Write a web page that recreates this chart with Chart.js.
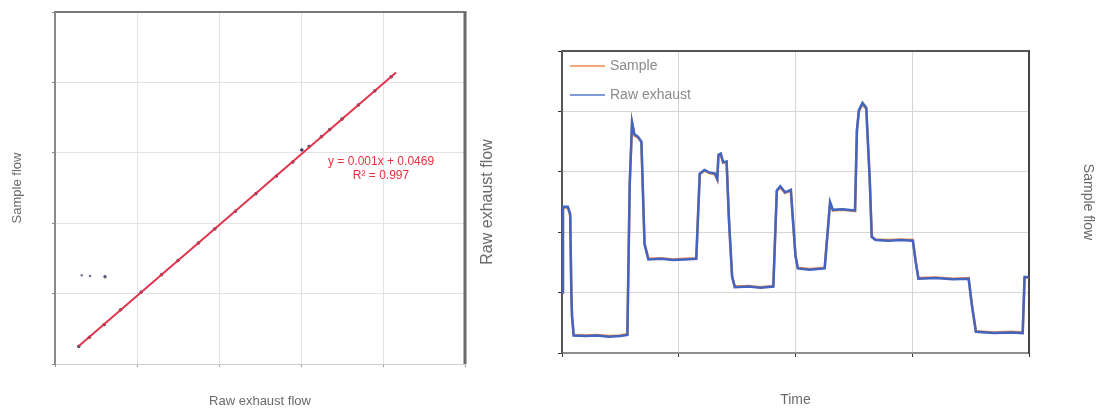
<!DOCTYPE html>
<html>
<head>
<meta charset="utf-8">
<title>Sample flow vs raw exhaust flow</title>
<script src="https://cdn.jsdelivr.net/npm/chart.js@4"></script>
<style>
  html, body { margin: 0; padding: 0; background: #fff; }
  body { width: 1098px; height: 412px; position: relative; overflow: hidden; }
  .box { position: absolute; top: 0; height: 412px; }
  #leftBox { left: 0; width: 480px; }
  #rightBox { left: 480px; width: 618px; }
</style>
</head>
<body>
<div class="box" id="leftBox"><canvas id="scatterChart"></canvas></div>
<div class="box" id="rightBox"><canvas id="timeChart"></canvas></div>
<script>
// left: sample flow against raw exhaust flow
const rawFlowX = [290, 420, 600, 800, 1050, 1300, 1500, 1750, 1950, 2200, 2450, 2700, 2900, 3010, 3100, 3250, 3350, 3500, 3700, 3900, 4100];
const sampleFlowY = [0.25, 0.38, 0.56, 0.77, 1.02, 1.27, 1.47, 1.72, 1.92, 2.17, 2.42, 2.67, 2.87, 3.04, 3.09, 3.23, 3.33, 3.48, 3.68, 3.88, 4.08];
const strayX = [326, 427, 610];
const strayY = [1.26, 1.25, 1.24];
const trendX = [284, 4159];
const trendY = [0.25, 4.14];
const trendText = ["y = 0.001x + 0.0469", "R\u00b2 = 0.997"];

// right: flows over time
const timeSteps = [0, 0.8, 5, 7, 8, 8.6, 10, 20, 30, 40, 50, 56, 58, 60, 62, 65, 68, 70.7, 74, 85, 95, 105, 115,
  118, 122, 126, 131, 133, 134, 136, 138, 141, 143, 145.7, 148, 160, 170, 181, 184, 187, 191, 196, 200, 202, 212,
  225, 229.6, 232, 240, 251, 252.6, 254.3, 257.4, 260.6, 263.6, 265.3, 268.6, 280, 290, 300.5, 303, 305.3, 320,
  335, 348.3, 351, 354.5, 370, 385, 394.6, 396.2, 399.5];
const rawExhaust = [1.00, 2.42, 2.42, 2.30, 1.00, 0.60, 0.29, 0.28, 0.29, 0.27, 0.28, 0.30, 2.80, 3.82, 3.62, 3.58,
  3.50, 1.80, 1.55, 1.56, 1.54, 1.55, 1.56, 2.97, 3.03, 2.99, 2.97, 2.88, 3.28, 3.30, 3.16, 3.17, 2.20, 1.26, 1.09,
  1.10, 1.08, 1.10, 2.69, 2.76, 2.66, 2.70, 1.60, 1.40, 1.38, 1.40, 2.50, 2.37, 2.38, 2.36, 3.69, 4.02, 4.14, 4.06,
  2.86, 1.92, 1.87, 1.86, 1.87, 1.86, 1.50, 1.23, 1.24, 1.22, 1.23, 0.80, 0.35, 0.33, 0.34, 0.33, 1.26, 1.26];
const sampleSeries = [1.02, 2.40, 2.41, 2.28, 1.02, 0.62, 0.30, 0.29, 0.30, 0.28, 0.29, 0.31, 2.78, 3.80, 3.60, 3.57,
  3.49, 1.82, 1.56, 1.57, 1.55, 1.56, 1.57, 2.96, 3.02, 2.98, 2.96, 2.87, 3.26, 3.28, 3.15, 3.16, 2.22, 1.27, 1.10,
  1.11, 1.09, 1.11, 2.68, 2.74, 2.65, 2.69, 1.62, 1.41, 1.39, 1.41, 2.48, 2.36, 2.37, 2.35, 3.67, 4.00, 4.12, 4.04,
  2.88, 1.93, 1.88, 1.87, 1.88, 1.87, 1.52, 1.24, 1.25, 1.23, 1.24, 0.82, 0.36, 0.34, 0.35, 0.34, 1.24, 1.25];

const FONT = "'Liberation Sans', Arial, sans-serif";
Chart.defaults.font.family = FONT;
Chart.defaults.animation = false;

function toPoints(xs, ys) {
    return xs.map((x, i) => ({ x: x, y: ys[i] }));
}

// top and right edges of the plot frame (left and bottom come from the axes)
const framePlugin = {
    id: 'frame',
    afterDraw(chart, args, opts) {
        const ctx = chart.ctx;
        const a = chart.chartArea;
        ctx.save();
        ctx.strokeStyle = opts.topColor;
        ctx.lineWidth = opts.topWidth;
        ctx.beginPath();
        ctx.moveTo(a.left, a.top);
        ctx.lineTo(a.right + opts.rightWidth / 2, a.top);
        ctx.stroke();
        if (opts.rightWidth) {
            ctx.strokeStyle = opts.rightColor;
            ctx.lineWidth = opts.rightWidth;
            ctx.beginPath();
            ctx.moveTo(a.right, a.top);
            ctx.lineTo(a.right, a.bottom);
            ctx.stroke();
        }
        ctx.restore();
    }
};

// regression equation next to the trend line
const equationPlugin = {
    id: 'equation',
    afterDatasetsDraw(chart, args, opts) {
        const ctx = chart.ctx;
        const px = chart.scales.x.getPixelForValue(opts.x);
        const py = chart.scales.y.getPixelForValue(opts.y);
        ctx.save();
        ctx.fillStyle = opts.color;
        ctx.font = opts.size + 'px ' + FONT;
        ctx.textAlign = 'center';
        ctx.textBaseline = 'middle';
        opts.lines.forEach((t, i) => ctx.fillText(t, px, py + i * opts.gap));
        ctx.restore();
    }
};

// legend drawn inside the plot, top left
const insideLegend = {
    id: 'insideLegend',
    afterDraw(chart, args, opts) {
        const ctx = chart.ctx;
        const a = chart.chartArea;
        ctx.save();
        ctx.font = opts.size + 'px ' + FONT;
        ctx.textBaseline = 'middle';
        chart.data.datasets.forEach((ds, i) => {
            const y = a.top + opts.firstY + i * opts.gap;
            ctx.strokeStyle = ds.legendColor;
            ctx.lineWidth = 2;
            ctx.beginPath();
            ctx.moveTo(a.left + 8, y);
            ctx.lineTo(a.left + 43, y);
            ctx.stroke();
            ctx.fillStyle = opts.color;
            ctx.fillText(ds.label, a.left + 48, y);
        });
        ctx.restore();
    }
};

new Chart(document.getElementById('scatterChart'), {
    type: 'scatter',
    data: {
        datasets: [{
            label: 'Trend',
            data: toPoints(trendX, trendY),
            showLine: true,
            borderColor: '#e0354b',
            borderWidth: 2,
            pointRadius: 0,
            order: 1
        }, {
            label: 'Measured',
            data: toPoints(rawFlowX, sampleFlowY),
            backgroundColor: '#3a3d6c',
            borderColor: '#3a3d6c',
            pointRadius: 1.3,
            order: 2
        }, {
            label: 'Stray',
            data: toPoints(strayX, strayY),
            backgroundColor: '#5a5d80',
            borderColor: '#5a5d80',
            pointRadius: [0.8, 0.8, 1.3],
            order: 3
        }]
    },
    options: {
        responsive: true,
        maintainAspectRatio: false,
        layout: { padding: { left: 10, top: 12, right: 15, bottom: 0 } },
        plugins: {
            legend: { display: false },
            tooltip: { enabled: false },
            frame: { topColor: '#7a7a7a', topWidth: 2, rightColor: '#6a6a6a', rightWidth: 3 },
            equation: { x: 3976, y: 2.87, gap: 13.5, size: 12, color: '#e8303e', lines: trendText }
        },
        scales: {
            x: {
                min: 0, max: 5000,
                ticks: { display: false, stepSize: 1000 },
                grid: { color: '#e3e3e3', tickColor: '#999', tickLength: 3 },
                border: { color: '#cfcfcf', width: 1 },
                title: { display: true, text: 'Raw exhaust flow', color: '#6a6a6a',
                         font: { size: 13 }, padding: { top: 26.2, bottom: 3.2 } }
            },
            y: {
                min: 0, max: 5,
                ticks: { display: false, stepSize: 1 },
                grid: { color: '#e3e3e3', tickColor: '#888', tickLength: 3 },
                border: { color: '#8a8a8a', width: 2 },
                title: { display: true, text: 'Sample flow', color: '#6a6a6a',
                         font: { size: 13 }, padding: { top: 0, bottom: 26.4 } }
            }
        }
    },
    plugins: [framePlugin, equationPlugin]
});

new Chart(document.getElementById('timeChart'), {
    type: 'line',
    data: {
        datasets: [{
            label: 'Sample',
            data: toPoints(timeSteps, sampleSeries),
            yAxisID: 'y2',
            borderColor: '#ee8a4e',
            legendColor: '#f3a87c',
            borderWidth: 2.5,
            pointRadius: 0,
            tension: 0,
            order: 2
        }, {
            label: 'Raw exhaust',
            data: toPoints(timeSteps, rawExhaust),
            yAxisID: 'y',
            borderColor: '#4364bf',
            legendColor: '#7f9bd6',
            borderWidth: 2.5,
            pointRadius: 0,
            tension: 0,
            order: 1
        }]
    },
    options: {
        responsive: true,
        maintainAspectRatio: false,
        layout: { padding: { left: 0, top: 51, right: 0, bottom: 0 } },
        plugins: {
            legend: { display: false },
            tooltip: { enabled: false },
            frame: { topColor: '#555', topWidth: 2, rightColor: '#555', rightWidth: 0 },
            insideLegend: { firstY: 15, gap: 29, size: 14, color: '#8a8a8a' }
        },
        scales: {
            x: {
                type: 'linear',
                min: 0, max: 400,
                ticks: { display: false, stepSize: 100 },
                grid: { color: '#d6d6d6', tickColor: '#333', tickLength: 4 },
                border: { color: '#8f8f8f', width: 2 },
                title: { display: true, text: 'Time', color: '#6a6a6a',
                         font: { size: 14 }, padding: { top: 34.6, bottom: 3.6 } }
            },
            y: {
                min: 0, max: 5,
                ticks: { display: false, stepSize: 1 },
                grid: { color: '#d6d6d6', tickColor: '#333', tickLength: 4 },
                border: { color: '#555', width: 2 },
                title: { display: true, text: 'Raw exhaust flow', color: '#6a6a6a',
                         font: { size: 16, lineHeight: 1 }, padding: { top: 0, bottom: 62 } }
            },
            y2: {
                position: 'right',
                min: 0, max: 5,
                ticks: { display: false, stepSize: 1 },
                grid: { display: false },
                border: { color: '#444', width: 2 },
                title: { display: true, text: 'Sample flow', color: '#6a6a6a',
                         font: { size: 14 }, padding: { top: 1.6, bottom: 42.6 } }
            }
        }
    },
    plugins: [framePlugin, insideLegend]
});
</script>
</body>
</html>
